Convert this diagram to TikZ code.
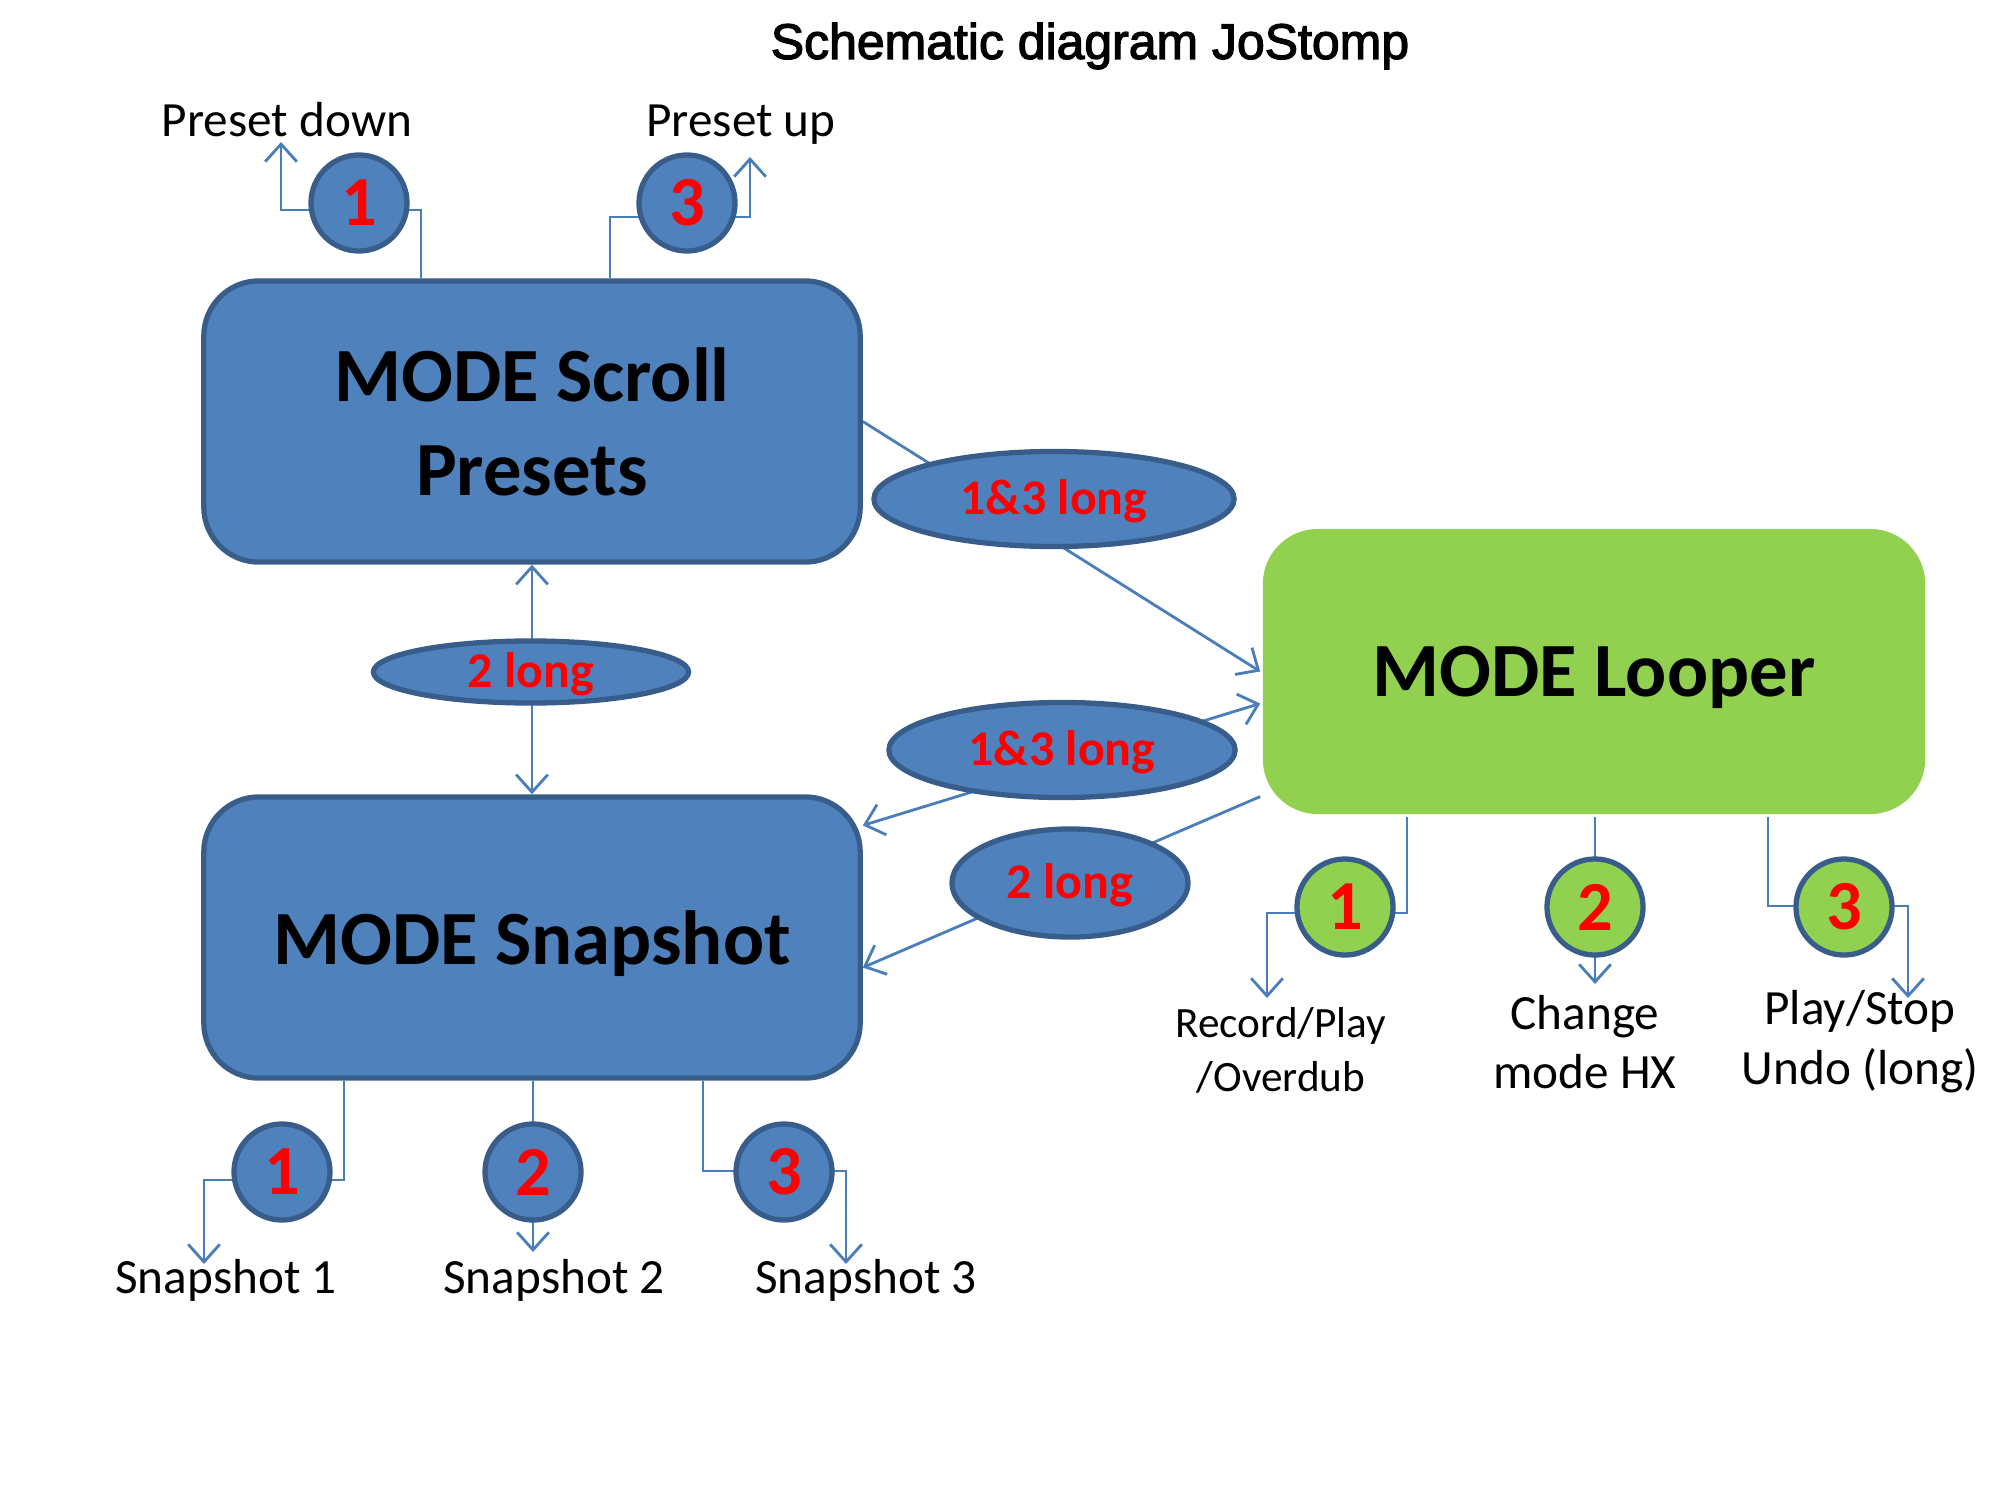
\documentclass[tikz,border=0pt]{standalone}
\usepackage{fontspec}
\setmainfont{Carlito}
\newfontfamily\titlefont[FakeBold=2.5]{Liberation Sans}
\usetikzlibrary{shapes.geometric,arrows.meta,backgrounds}
\definecolor{fillblue}{HTML}{4F81BD}
\definecolor{bordblue}{HTML}{385D8A}
\definecolor{lineblue}{HTML}{4A7EBB}
\definecolor{loopgreen}{HTML}{92D050}
\tikzset{
  modebox/.style={rectangle, rounded corners=0.55cm, draw=bordblue, line width=1.5pt, fill=fillblue,
    minimum width=6.56cm, minimum height=2.81cm, align=center, inner sep=0pt, text depth=0pt,
    font=\bfseries\fontsize{21.8}{26.6}\selectfont},
  loopbox/.style={modebox, draw=none, fill=loopgreen, minimum width=6.62cm, minimum height=2.85cm},
  btn/.style={circle, draw=bordblue, line width=1.5pt, fill=fillblue, minimum size=0.96cm,
    inner sep=0pt, text=red, font=\bfseries\fontsize{20}{24}\selectfont},
  gbtn/.style={btn, fill=loopgreen},
  cond/.style={ellipse, draw=bordblue, line width=1.5pt, fill=fillblue, inner sep=0pt, text depth=1.2pt,
    text=red, font=\bfseries\fontsize{14.2}{17}\selectfont},
  lbl/.style={align=center, inner sep=0pt, font=\fontsize{14}{17}\selectfont},
  slbl/.style={align=center, inner sep=0pt, font=\fontsize{12.3}{15.3}\selectfont},
  conn/.style={draw=lineblue, line width=0.8pt},
  >={Straight Barb[length=5pt,width=9pt]}
}
\begin{document}
\begin{tikzpicture}[x=0.01cm, y=-0.01cm]
\useasboundingbox (0,0) rectangle (2000,1500);

% title
\node[inner sep=0pt, font=\titlefont\fontsize{14.2}{17}\selectfont] (title) at (1090,46) {Schematic diagram JoStomp};

% mode boxes
\node[modebox] (scroll) at (532,421.5) {MODE Scroll\\Presets};
\node[modebox] (snap) at (532,937.5) {MODE Snapshot};
\node[loopbox] (loop) at (1594,671.5) {MODE Looper};

% condition ellipses
\node[cond, minimum width=3.6cm, minimum height=0.95cm] (c13a) at (1054,499) {1\&3 long};
\node[cond, minimum width=3.15cm, minimum height=0.62cm] (c2a) at (531,672) {2 long};
\node[cond, minimum width=3.46cm, minimum height=0.95cm] (c13b) at (1062,750) {1\&3 long};
\node[cond, minimum width=2.36cm, minimum height=1.08cm] (c2b) at (1070,883) {2 long};

% buttons
\node[btn] (pb1) at (359,203) {1};
\node[btn] (pb3) at (687,203) {3};
\node[btn] (sb1) at (282,1172) {1};
\node[btn] (sb2) at (533,1172) {2};
\node[btn] (sb3) at (784,1172) {3};
\node[gbtn] (lb1) at (1345,907) {1};
\node[gbtn] (lb2) at (1595,907) {2};
\node[gbtn] (lb3) at (1844,907) {3};

% labels
\node[lbl, anchor=base] (pdown) at (287,137) {Preset down};
\node[lbl, anchor=base] (pup) at (741,137) {Preset up};
\node[lbl] (snl1) at (226,1280) {Snapshot 1};
\node[lbl] (snl2) at (554,1280) {Snapshot 2};
\node[lbl] (snl3) at (866,1280) {Snapshot 3};
\node[slbl] (ll1) at (1281,1050) {Record/Play\\/Overdub};
\node[lbl] (ll2) at (1585,1042) {Change\\mode HX};
\node[lbl] (ll3) at (1860,1042) {Play/Stop\\Undo (long)};

% bend points and arrow ends
\coordinate (pb1k) at (421,210);
\coordinate (pb1t) at (281,142);
\coordinate (pb3k) at (610,217);
\coordinate (pb3t) at (750,157);
\coordinate (sb1k) at (344,1180);
\coordinate (sb1t) at (204,1264);
\coordinate (sb2t) at (533,1252);
\coordinate (sb3k) at (703,1171);
\coordinate (sb3t) at (846,1264);
\coordinate (lb1k) at (1407,913);
\coordinate (lb1t) at (1267,998);
\coordinate (lb2t) at (1595,984);
\coordinate (lb3k) at (1768,906);
\coordinate (lb3t) at (1908,998);

\begin{scope}[on background layer]
  \draw[conn,->] (scroll.north -| pb1k) -- (pb1k) -- (pb1k -| pb1t) -- (pb1t);
  \draw[conn,->] (scroll.north -| pb3k) -- (pb3k) -- (pb3k -| pb3t) -- (pb3t);
  \draw[conn,->] (snap.south -| sb1k) -- (sb1k) -- (sb1k -| sb1t) -- (sb1t);
  \draw[conn,->] (snap.south -| sb2t) -- (sb2t);
  \draw[conn,->] (snap.south -| sb3k) -- (sb3k) -- (sb3k -| sb3t) -- (sb3t);
  \draw[conn,->] (loop.south -| lb1k) -- (lb1k) -- (lb1k -| lb1t) -- (lb1t);
  \draw[conn,->] (loop.south -| lb2t) -- (lb2t);
  \draw[conn,->] (loop.south -| lb3k) -- (lb3k) -- (lb3k -| lb3t) -- (lb3t);
  \draw[conn,<->] (scroll.south) -- (snap.north);
  \draw[conn,->] (scroll.east) -- (loop.west);
  \draw[conn,<->] ([yshift=1.12cm]snap.east) -- ([yshift=-0.32cm]loop.west);
  \draw[conn,->] ([yshift=-1.25cm]loop.west) -- ([yshift=-0.3cm]snap.east);
\end{scope}
\end{tikzpicture}
\end{document}
